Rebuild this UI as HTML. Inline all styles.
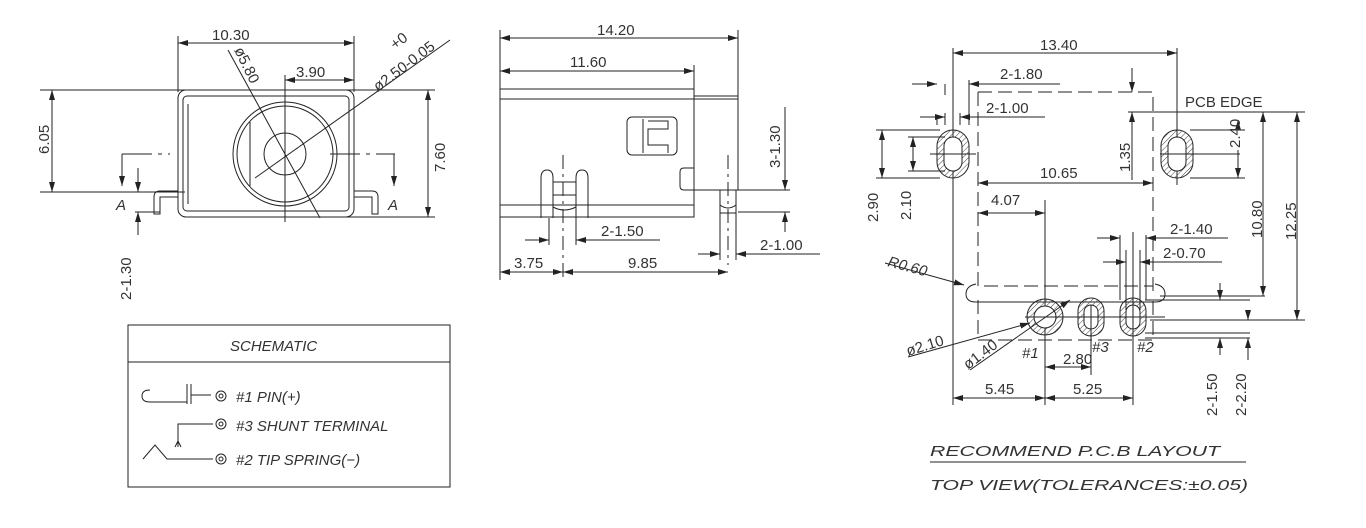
<!DOCTYPE html>
<html><head><meta charset="utf-8"><style>
html,body{margin:0;padding:0;background:#fff;}
svg{display:block}
text{font-family:"Liberation Sans",sans-serif;fill:#333;font-size:15px}
.it{font-style:italic}
</style></head><body>
<svg width="1366" height="528" viewBox="0 0 1366 528" xmlns="http://www.w3.org/2000/svg">
<defs>
<marker id="a" viewBox="0 0 10 6" refX="10" refY="3" markerWidth="10" markerHeight="6" orient="auto-start-reverse"><path d="M0,0 L10,3 L0,6 z" fill="#222"/></marker>
<pattern id="h" width="4" height="4" patternUnits="userSpaceOnUse" patternTransform="rotate(45)"><line x1="0" y1="0" x2="0" y2="4" stroke="#444" stroke-width="1"/></pattern>
</defs>
<g stroke="#222" stroke-width="1" fill="none">
<line x1="178" y1="36" x2="178" y2="92"/><line x1="354" y1="36" x2="354" y2="92"/>
<line x1="178" y1="43" x2="354" y2="43" marker-start="url(#a)" marker-end="url(#a)"/>
<line x1="285" y1="80" x2="354" y2="80" marker-start="url(#a)" marker-end="url(#a)"/>
<line x1="285" y1="75" x2="285" y2="222"/>
<line x1="40" y1="90" x2="435" y2="90"/>
<line x1="40" y1="192" x2="185" y2="192"/>
<line x1="345" y1="217" x2="435" y2="217"/>
<line x1="52" y1="90" x2="52" y2="192" marker-start="url(#a)" marker-end="url(#a)"/>
<line x1="428" y1="90" x2="428" y2="217" marker-start="url(#a)" marker-end="url(#a)"/>
<rect x="178" y="90" width="176" height="127" rx="8"/>
<rect x="183" y="96" width="166" height="115" rx="4"/>
<line x1="188" y1="104" x2="188" y2="204"/>
<circle cx="285" cy="154" r="52"/><circle cx="285" cy="154" r="48"/>
<circle cx="285" cy="154" r="21"/>
<line x1="250" y1="122" x2="250" y2="186"/>
<line x1="228" y1="50" x2="320" y2="218"/>
<line x1="255" y1="178" x2="450" y2="40"/>
<line x1="122" y1="154" x2="170" y2="154" stroke-dasharray="30 6 4 6"/>
<line x1="330" y1="154" x2="395" y2="154" stroke-dasharray="30 6 4 6"/>
<line x1="122" y1="154" x2="122" y2="186" marker-end="url(#a)"/>
<line x1="394" y1="154" x2="394" y2="186" marker-end="url(#a)"/>
<path d="M178 191 h-18 q-6 0 -6 6 v17 h6 v-17 h18"/>
<path d="M354 191 h18 q6 0 6 6 v17 h-6 v-17 h-18"/>
<line x1="138" y1="168" x2="138" y2="192" marker-end="url(#a)"/>
<line x1="138" y1="235" x2="138" y2="212" marker-end="url(#a)"/>
<line x1="135" y1="212" x2="160" y2="212"/>

<line x1="500" y1="30" x2="500" y2="280"/><line x1="738" y1="30" x2="738" y2="190"/>
<line x1="500" y1="38" x2="738" y2="38" marker-start="url(#a)" marker-end="url(#a)"/>
<line x1="694" y1="65" x2="694" y2="89"/>
<line x1="500" y1="71" x2="694" y2="71" marker-start="url(#a)" marker-end="url(#a)"/>
<rect x="500" y="89" width="194" height="128"/>
<line x1="500" y1="99" x2="694" y2="99"/><line x1="500" y1="205" x2="694" y2="205"/>
<rect x="694" y="96" width="44" height="94"/><line x1="694" y1="99" x2="738" y2="99"/>
<rect x="627" y="117" width="50" height="38" rx="5"/>
<path d="M643 119 v34 M648 121 h20 v8 h-20 v16 h20 v8"/>
<path d="M694 168 h-10 q-4 0 -4 4 v14 q0 4 4 4 h10"/>
<rect x="720" y="190" width="16" height="23"/><path d="M720 205 q8 6 16 0"/>
<line x1="728" y1="155" x2="728" y2="265" stroke-dasharray="14 5 3 5"/>
<path d="M541 218 v-40 q0 -8 6 -8 q6 0 6 8 v40 M576 218 v-40 q0 -8 6 -8 q6 0 6 8 v40"/>
<path d="M553 182 h23 M553 195 h23 M553 207 q11 6 23 0"/>
<line x1="563" y1="155" x2="563" y2="280" stroke-dasharray="14 5 3 5"/>
<line x1="549" y1="218" x2="549" y2="245"/><line x1="576" y1="218" x2="576" y2="245"/>
<line x1="525" y1="240" x2="549" y2="240" marker-end="url(#a)"/>
<line x1="660" y1="240" x2="576" y2="240" marker-end="url(#a)"/>
<line x1="500" y1="272" x2="563" y2="272" marker-start="url(#a)" marker-end="url(#a)"/>
<line x1="563" y1="272" x2="728" y2="272" marker-start="url(#a)" marker-end="url(#a)"/>
<line x1="720" y1="213" x2="720" y2="260"/><line x1="736" y1="213" x2="736" y2="260"/>
<line x1="698" y1="254" x2="720" y2="254" marker-end="url(#a)"/>
<line x1="820" y1="254" x2="736" y2="254" marker-end="url(#a)"/>
<line x1="738" y1="190" x2="790" y2="190"/><line x1="738" y1="212" x2="790" y2="212"/>
<line x1="785" y1="107" x2="785" y2="190" marker-end="url(#a)"/>
<line x1="785" y1="232" x2="785" y2="212" marker-end="url(#a)"/>

<line x1="953" y1="48" x2="953" y2="405"/><line x1="1177" y1="48" x2="1177" y2="185"/>
<line x1="953" y1="53" x2="1177" y2="53" marker-start="url(#a)" marker-end="url(#a)"/>
<path d="M978 92 H1153 V296" stroke-dasharray="14 6"/>
<path d="M978 92 V286 H1153" stroke-dasharray="14 6"/>
<path d="M978 300 V340 H1153 V300" stroke-dasharray="14 6"/>
<path d="M976 284 q-10 2 -10 10 q0 8 10 8 H1155 q10 0 10 -8 q0 -8 -10 -10"/>
<line x1="1155" y1="112" x2="1305" y2="112"/>
<line x1="1160" y1="296" x2="1265" y2="296"/>
<line x1="1150" y1="320" x2="1305" y2="320"/>
<line x1="1263" y1="112" x2="1263" y2="296" marker-start="url(#a)" marker-end="url(#a)"/>
<line x1="1297" y1="112" x2="1297" y2="320" marker-start="url(#a)" marker-end="url(#a)"/>
<rect x="937" y="130" width="32" height="48" rx="16" fill="url(#h)"/><rect x="944" y="137" width="18" height="34" rx="9" fill="#fff"/>
<rect x="1161" y="130" width="32" height="48" rx="16" fill="url(#h)"/><rect x="1168" y="137" width="18" height="34" rx="9" fill="#fff"/>
<line x1="930" y1="154" x2="976" y2="154"/><line x1="1160" y1="154" x2="1240" y2="154"/>
<line x1="937" y1="115" x2="937" y2="125"/><line x1="969" y1="80" x2="969" y2="125"/>
<line x1="945" y1="84" x2="945" y2="95"/><line x1="969" y1="84" x2="1060" y2="84"/>
<line x1="912" y1="84" x2="937" y2="84" marker-end="url(#a)"/>
<line x1="1000" y1="84" x2="969" y2="84" marker-end="url(#a)"/>
<line x1="920" y1="117" x2="945" y2="117" marker-end="url(#a)"/>
<line x1="1045" y1="117" x2="960" y2="117" marker-end="url(#a)"/>
<line x1="945" y1="113" x2="945" y2="125"/><line x1="960" y1="113" x2="960" y2="125"/>
<line x1="876" y1="130" x2="940" y2="130"/><line x1="876" y1="178" x2="940" y2="178"/>
<line x1="908" y1="137" x2="945" y2="137"/><line x1="908" y1="171" x2="945" y2="171"/>
<line x1="882" y1="130" x2="882" y2="178" marker-start="url(#a)" marker-end="url(#a)"/>
<line x1="913" y1="137" x2="913" y2="171" marker-start="url(#a)" marker-end="url(#a)"/>
<line x1="1132" y1="68" x2="1132" y2="92" marker-end="url(#a)"/>
<line x1="1132" y1="180" x2="1132" y2="112" marker-end="url(#a)"/>
<line x1="1128" y1="112" x2="1155" y2="112"/>
<line x1="1238" y1="120" x2="1238" y2="130" marker-start="url(#a)"/>
<line x1="1238" y1="150" x2="1238" y2="178" marker-end="url(#a)"/>
<line x1="1190" y1="130" x2="1245" y2="130"/><line x1="1190" y1="178" x2="1245" y2="178"/>
<line x1="978" y1="183" x2="1153" y2="183" marker-start="url(#a)" marker-end="url(#a)"/>
<line x1="978" y1="213" x2="1045" y2="213" marker-start="url(#a)" marker-end="url(#a)"/>
<line x1="1045" y1="200" x2="1045" y2="405"/>
<circle cx="1045" cy="317" r="18" fill="url(#h)"/><circle cx="1045" cy="317" r="11" fill="#fff"/>
<rect x="1078" y="298" width="26" height="38" rx="13" fill="url(#h)"/><rect x="1084" y="305" width="14" height="24" rx="7" fill="#fff"/>
<rect x="1120" y="298" width="26" height="38" rx="13" fill="url(#h)"/><rect x="1126" y="305" width="14" height="24" rx="7" fill="#fff"/>
<line x1="1025" y1="317" x2="1165" y2="317"/>
<line x1="1091" y1="305" x2="1091" y2="375"/><line x1="1133" y1="232" x2="1133" y2="405"/>
<line x1="1126" y1="250" x2="1126" y2="310"/><line x1="1140" y1="250" x2="1140" y2="310"/>
<line x1="1120" y1="235" x2="1120" y2="300"/><line x1="1146" y1="235" x2="1146" y2="300"/>
<line x1="1097" y1="238" x2="1120" y2="238" marker-end="url(#a)"/>
<line x1="1228" y1="238" x2="1146" y2="238" marker-end="url(#a)"/>
<line x1="1103" y1="262" x2="1126" y2="262" marker-end="url(#a)"/>
<line x1="1222" y1="262" x2="1140" y2="262" marker-end="url(#a)"/>
<line x1="1145" y1="300" x2="1250" y2="300"/><line x1="1145" y1="333" x2="1250" y2="333"/>
<line x1="1145" y1="338" x2="1250" y2="338"/>
<line x1="1220" y1="283" x2="1220" y2="300" marker-end="url(#a)"/>
<line x1="1220" y1="355" x2="1220" y2="338" marker-end="url(#a)"/>
<line x1="1248" y1="310" x2="1248" y2="320" marker-end="url(#a)"/>
<line x1="1248" y1="360" x2="1248" y2="338" marker-end="url(#a)"/>
<line x1="1045" y1="367" x2="1091" y2="367" marker-start="url(#a)" marker-end="url(#a)"/>
<line x1="953" y1="398" x2="1045" y2="398" marker-start="url(#a)" marker-end="url(#a)"/>
<line x1="1045" y1="398" x2="1133" y2="398" marker-start="url(#a)" marker-end="url(#a)"/>
<line x1="885" y1="263" x2="964" y2="285" marker-end="url(#a)"/>
<line x1="908" y1="357" x2="1030" y2="323" marker-end="url(#a)"/>
<line x1="970" y1="370" x2="1070" y2="300" marker-end="url(#a)"/>

<rect x="128" y="325" width="322" height="162"/>
<line x1="128" y1="362" x2="450" y2="362"/>
<path d="M150 390 q-8 0 -8 6 q0 6 8 6 H187 M187 384 v20 M191 384 v20 M191 395 h20"/>
<circle cx="221" cy="396" r="5"/><circle cx="221" cy="396" r="2"/>
<path d="M178 447 V424 H213"/><path d="M175 447 l3 -6 l3 6"/>
<circle cx="221" cy="424" r="5"/><circle cx="221" cy="424" r="2"/>
<path d="M143 459 l12 -14 l12 14 H213"/>
<circle cx="221" cy="459" r="5"/><circle cx="221" cy="459" r="2"/>
<line x1="930" y1="462" x2="1246" y2="462"/>
</g>
<g>
<text x="212" y="40">10.30</text>
<text x="296" y="77">3.90</text>
<text transform="translate(234,50) rotate(64)">ø5.80</text>
<text transform="translate(378,92) rotate(-37)">ø2.50-0.05</text>
<text transform="translate(395,50) rotate(-37)" font-size="13">+0</text>
<text transform="translate(49,154) rotate(-90)">6.05</text>
<text transform="translate(445,172) rotate(-90)">7.60</text>
<text x="116" y="210" class="it">A</text><text x="388" y="210" class="it">A</text>
<text transform="translate(131,300) rotate(-90)">2-1.30</text>
<text x="597" y="35">14.20</text>
<text x="570" y="67">11.60</text>
<text x="601" y="236">2-1.50</text>
<text x="514" y="268">3.75</text>
<text x="628" y="268">9.85</text>
<text x="760" y="250">2-1.00</text>
<text transform="translate(780,168) rotate(-90)">3-1.30</text>
<text x="1040" y="50">13.40</text>
<text x="1000" y="79">2-1.80</text>
<text x="986" y="113">2-1.00</text>
<text x="1185" y="107" font-size="16">PCB EDGE</text>
<text transform="translate(1130,172) rotate(-90)">1.35</text>
<text transform="translate(1240,148) rotate(-90)">2.40</text>
<text x="1040" y="178">10.65</text>
<text x="991" y="205">4.07</text>
<text transform="translate(878,222) rotate(-90)">2.90</text>
<text transform="translate(911,220) rotate(-90)">2.10</text>
<text transform="translate(1262,238) rotate(-90)">10.80</text>
<text transform="translate(1296,240) rotate(-90)">12.25</text>
<text x="1170" y="234">2-1.40</text>
<text x="1163" y="258">2-0.70</text>
<text transform="translate(887,266) rotate(15)" class="it">R0.60</text>
<text transform="translate(908,356) rotate(-17)">ø2.10</text>
<text transform="translate(968,370) rotate(-37)">ø1.40</text>
<text x="1022" y="358" class="it">#1</text>
<text x="1092" y="352" class="it">#3</text>
<text x="1137" y="352" class="it">#2</text>
<text x="1063" y="364">2.80</text>
<text x="985" y="394">5.45</text>
<text x="1073" y="394">5.25</text>
<text transform="translate(1217,416) rotate(-90)">2-1.50</text>
<text transform="translate(1246,416) rotate(-90)">2-2.20</text>
<text x="230" y="351" class="it" font-size="14">SCHEMATIC</text>
<text x="236" y="402" class="it">#1  PIN(+)</text>
<text x="236" y="431" class="it">#3  SHUNT TERMINAL</text>
<text x="236" y="465" class="it">#2  TIP SPRING(−)</text>
<text x="930" y="456" class="it" font-size="24" textLength="290" lengthAdjust="spacingAndGlyphs">RECOMMEND P.C.B LAYOUT</text>
<text x="930" y="490" class="it" font-size="24" textLength="318" lengthAdjust="spacingAndGlyphs">TOP VIEW(TOLERANCES:±0.05)</text>
</g>
</svg>
</body></html>
